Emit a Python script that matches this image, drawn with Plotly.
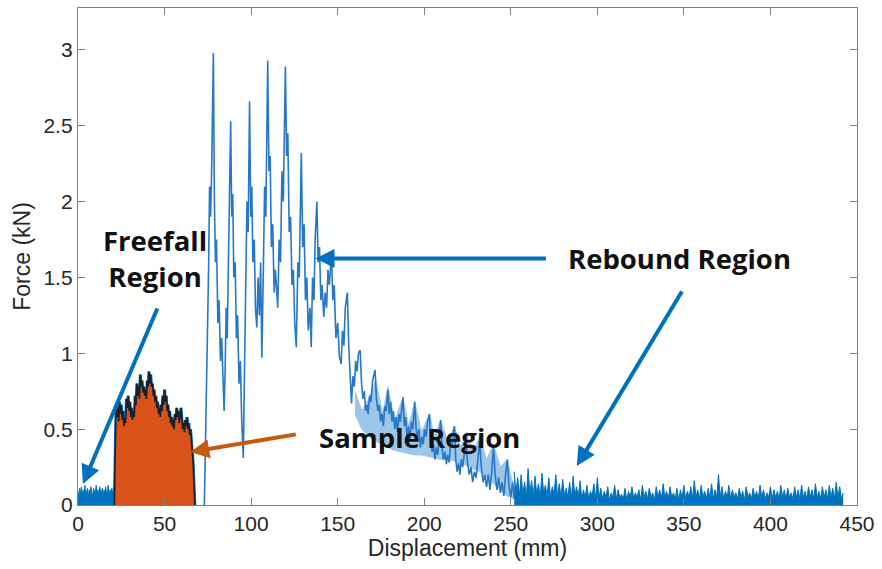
import numpy as np
import plotly.graph_objects as go

# ---------------- data ----------------
# Freefall region: 0 - 21 mm, 0.5 mm sampling
freefall_start, freefall_step = 0.0, 0.5
freefall_y = [0.09, 0.05, 0.11, 0.07, 0.12, 0.06, 0.10, 0.08, 0.13, 0.06,
              0.09, 0.11, 0.05, 0.10, 0.07, 0.12, 0.08, 0.06, 0.11, 0.09,
              0.07, 0.13, 0.08, 0.10, 0.06, 0.12, 0.09, 0.07, 0.11, 0.05,
              0.10, 0.08, 0.12, 0.07, 0.09, 0.13, 0.06, 0.10, 0.08, 0.11,
              0.07, 0.12, 0.09]

# Sample region: 21 - 67.5 mm, 0.5 mm sampling
sample_start, sample_step = 21.0, 0.5
sample_y = [0.00, 0.52, 0.66, 0.58, 0.64, 0.55, 0.68, 0.60, 0.66, 0.56,
            0.62, 0.52, 0.58, 0.54, 0.70, 0.64, 0.72, 0.62, 0.68, 0.58,
            0.64, 0.56, 0.62, 0.58, 0.72, 0.66, 0.80, 0.72, 0.78, 0.70,
            0.86, 0.78, 0.82, 0.74, 0.78, 0.72, 0.76, 0.70, 0.82, 0.78,
            0.88, 0.80, 0.86, 0.78, 0.80, 0.72, 0.76, 0.68, 0.72, 0.64,
            0.68, 0.60, 0.64, 0.58, 0.66, 0.62, 0.72, 0.66, 0.76, 0.68,
            0.72, 0.62, 0.66, 0.58, 0.62, 0.54, 0.58, 0.52, 0.56, 0.50,
            0.60, 0.56, 0.64, 0.58, 0.62, 0.54, 0.60, 0.64, 0.56, 0.50,
            0.54, 0.48, 0.56, 0.52, 0.58, 0.50, 0.54, 0.46, 0.50, 0.44,
            0.38, 0.28, 0.14, 0.00]

# Rebound region (main oscillating trace)
rebound_x = [73.0, 74.5, 75.5, 76.0, 76.6, 77.2, 78.2, 78.8, 79.4, 80.0,
             80.8, 81.5, 82.3, 83.0, 83.8, 84.4, 85.0, 85.6, 86.2, 87.0,
             87.6, 88.2, 88.8, 89.4, 90.0, 90.8, 91.5, 92.2, 93.0, 93.8,
             94.6, 95.5, 96.2, 97.0, 97.6, 98.3, 99.1, 99.8, 100.4, 101.0,
             101.8, 102.5, 103.3, 104.0, 104.8, 105.5, 106.2, 107.0, 107.8, 108.5,
             109.6, 110.3, 111.0, 111.7, 112.5, 113.3, 114.0, 115.4, 116.2, 117.0,
             117.8, 118.6, 119.8, 120.5, 121.2, 122.0, 122.8, 123.6, 124.4, 125.2,
             126.1, 127.0, 127.8, 129.0, 129.8, 130.6, 131.4, 132.2, 133.0, 134.0,
             134.7, 135.5, 136.3, 137.0, 138.0, 138.7, 139.5, 140.3, 141.0, 142.0,
             142.8, 143.6, 144.4, 145.2, 146.4, 147.2, 148.0, 149.0, 150.0, 151.0,
             152.0, 152.8, 153.6, 154.4, 155.6, 156.4, 157.2, 158.0, 158.8, 159.6,
             160.4, 161.2, 162.0, 163.0, 163.8, 164.6, 165.4, 166.2, 167.0, 167.6,
             168.4, 169.2, 170.2, 171.6, 172.4, 173.2, 174.0, 174.8, 175.6, 176.4,
             177.2, 178.0, 179.0, 179.8, 180.6, 181.4, 182.2, 183.0, 183.8, 184.6,
             185.4, 186.2, 187.7, 188.5, 189.3, 190.1, 191.0, 191.8, 192.6, 193.4,
             194.5, 195.3, 196.1, 197.0, 197.8, 198.6, 199.4, 200.2, 201.0, 202.0,
             203.0, 203.8, 204.6, 205.4, 206.2, 207.0, 207.8, 208.6, 209.5, 210.3,
             211.1, 212.0, 212.8, 213.6, 214.4, 215.2, 216.0, 217.4, 218.2, 219.0,
             219.8, 220.6, 221.4, 222.2, 223.0, 224.0, 225.0, 226.0, 227.0, 228.0,
             229.0, 230.0, 231.0, 232.0, 233.0, 234.0, 235.0, 236.0, 237.0, 238.0,
             239.0, 240.0, 241.0, 242.0, 243.0, 244.0, 245.0, 246.0, 247.0, 248.0,
             249.0, 250.0, 251.0, 252.0]
rebound_y = [0.0, 0.9, 1.6, 2.1, 1.9, 2.2, 2.98, 2.0, 1.6, 1.75,
             1.2, 1.35, 0.95, 1.1, 0.75, 0.62, 0.9, 1.3, 1.1, 1.8,
             2.1, 2.53, 1.9, 2.05, 1.5, 1.6, 1.1, 1.25, 0.8, 0.95,
             0.55, 0.31, 0.9, 1.5, 2.0, 1.8, 2.66, 1.9, 2.1, 1.6,
             1.75, 1.3, 1.17, 1.5, 1.25, 1.6, 0.97, 1.5, 2.1, 1.9,
             2.93, 2.2, 2.3, 1.7, 1.85, 1.4, 1.55, 1.3, 1.75, 1.6,
             2.2, 2.0, 2.89, 2.3, 2.45, 1.8, 1.9, 1.45, 1.55, 1.2,
             1.04, 1.6, 1.5, 2.32, 1.7, 1.85, 1.35, 1.5, 1.15, 1.3,
             1.04, 1.5, 1.35, 1.75, 2.0, 1.6, 1.7, 1.35, 1.45, 1.24,
             1.4, 1.3, 1.55, 1.45, 1.66, 1.35, 1.45, 1.1, 1.2, 0.98,
             0.93, 1.15, 1.05, 1.3, 1.4, 1.05, 0.9, 0.67, 0.85, 0.78,
             0.95, 0.88, 1.0, 1.02, 0.8, 0.7, 0.75, 0.62, 0.66, 0.6,
             0.72, 0.68, 0.82, 0.89, 0.7, 0.62, 0.66, 0.55, 0.6, 0.52,
             0.65, 0.62, 0.76, 0.6, 0.68, 0.55, 0.62, 0.5, 0.58, 0.48,
             0.6, 0.55, 0.71, 0.52, 0.58, 0.45, 0.52, 0.42, 0.55, 0.5,
             0.68, 0.5, 0.45, 0.5, 0.38, 0.45, 0.4, 0.5, 0.45, 0.55,
             0.6, 0.42, 0.35, 0.4, 0.3, 0.38, 0.33, 0.45, 0.56, 0.38,
             0.3, 0.35, 0.27, 0.33, 0.28, 0.4, 0.38, 0.52, 0.3, 0.22,
             0.28, 0.2, 0.3, 0.25, 0.32, 0.45, 0.28, 0.2, 0.25, 0.15,
             0.22, 0.18, 0.28, 0.42, 0.25, 0.15, 0.2, 0.12, 0.2, 0.1,
             0.22, 0.38, 0.2, 0.1, 0.18, 0.08, 0.15, 0.06, 0.2, 0.3,
             0.12, 0.05, 0.15, 0.04]

# Light-blue oscillation band under the decaying part of the rebound
band_x = [160, 164, 168, 172, 176, 179, 183, 187.7, 191, 194.5, 198.5, 203, 206,
          209.5, 213.5, 217.4, 221, 224.5, 228, 232, 236, 240, 244, 248, 252]
band_upper = [0.75, 0.62, 0.7, 0.82, 0.6, 0.78, 0.55, 0.71, 0.52, 0.68, 0.48, 0.6, 0.45,
              0.56, 0.42, 0.52, 0.38, 0.48, 0.34, 0.45, 0.3, 0.4, 0.25, 0.3, 0.1]
band_lower = [0.6, 0.5, 0.45, 0.42, 0.4, 0.38, 0.36, 0.35, 0.34, 0.33, 0.33, 0.32, 0.31,
              0.3, 0.3, 0.29, 0.28, 0.26, 0.24, 0.22, 0.18, 0.14, 0.1, 0.06, 0.04]

# Tail (after rebound): 252 - 442 mm, 1 mm sampling
tail_start, tail_step = 252.0, 1.0
tail_y = [0.22, 0.08, 0.18, 0.06, 0.20, 0.07, 0.15, 0.05, 0.24, 0.08,
          0.16, 0.06, 0.19, 0.07, 0.14, 0.05, 0.21, 0.08, 0.13, 0.06,
          0.18, 0.05, 0.12, 0.07, 0.20, 0.06, 0.14, 0.05, 0.17, 0.06,
          0.11, 0.05, 0.15, 0.04, 0.19, 0.06, 0.12, 0.05, 0.16, 0.04,
          0.10, 0.05, 0.13, 0.04, 0.09, 0.06, 0.14, 0.04, 0.18, 0.05,
          0.11, 0.04, 0.09, 0.05, 0.12, 0.03, 0.08, 0.05, 0.13, 0.04,
          0.10, 0.05, 0.07, 0.04, 0.11, 0.03, 0.09, 0.05, 0.12, 0.04,
          0.08, 0.05, 0.10, 0.03, 0.13, 0.05, 0.09, 0.04, 0.11, 0.05,
          0.08, 0.03, 0.12, 0.05, 0.10, 0.04, 0.14, 0.05, 0.09, 0.04,
          0.12, 0.05, 0.08, 0.04, 0.11, 0.03, 0.10, 0.05, 0.13, 0.04,
          0.09, 0.05, 0.12, 0.04, 0.16, 0.05, 0.10, 0.04, 0.13, 0.05,
          0.09, 0.04, 0.11, 0.05, 0.14, 0.04, 0.10, 0.05, 0.20, 0.05,
          0.12, 0.04, 0.09, 0.05, 0.13, 0.04, 0.10, 0.05, 0.08, 0.04,
          0.11, 0.05, 0.09, 0.03, 0.12, 0.05, 0.08, 0.04, 0.11, 0.05,
          0.09, 0.04, 0.13, 0.05, 0.10, 0.04, 0.08, 0.05, 0.12, 0.04,
          0.10, 0.05, 0.09, 0.04, 0.13, 0.05, 0.10, 0.04, 0.11, 0.05,
          0.08, 0.04, 0.12, 0.05, 0.10, 0.04, 0.13, 0.05, 0.09, 0.04,
          0.12, 0.05, 0.10, 0.04, 0.14, 0.05, 0.09, 0.04, 0.12, 0.05,
          0.10, 0.04, 0.13, 0.05, 0.11, 0.04, 0.15, 0.05, 0.12, 0.04,
          0.08]

x_ticks = [0, 50, 100, 150, 200, 250, 300, 350, 400, 450]
y_ticks = [0, 0.5, 1, 1.5, 2, 2.5, 3]
y_ticktext = ["0", "0.5", "1", "1.5", "2", "2.5", "3"]

# ---------------- figure ----------------
BLUE = "#0072BD"
ORANGE = "#D95319"
ARROW_BLUE = "#0070C0"
ARROW_ORANGE = "#C55A11"

freefall_x = freefall_start + freefall_step * np.arange(len(freefall_y))
sample_x = sample_start + sample_step * np.arange(len(sample_y))
tail_x = tail_start + tail_step * np.arange(len(tail_y))

fig = go.Figure()

fig.add_trace(go.Scatter(x=freefall_x, y=freefall_y, mode="lines",
                         line=dict(color=BLUE, width=1), fill="tozeroy",
                         fillcolor=BLUE, showlegend=False))

fig.add_trace(go.Scatter(x=list(band_x) + list(band_x)[::-1],
                         y=list(band_upper) + list(band_lower)[::-1],
                         mode="lines", line=dict(color="#9cc6ea", width=1),
                         fill="toself", fillcolor="#9cc6ea", showlegend=False))

fig.add_trace(go.Scatter(x=rebound_x, y=rebound_y, mode="lines",
                         line=dict(color="#2777c6", width=1.6), showlegend=False))

fig.add_trace(go.Scatter(x=tail_x, y=tail_y, mode="lines",
                         line=dict(color=BLUE, width=1), fill="tozeroy",
                         fillcolor=BLUE, showlegend=False))

# Sample region: blue halo, then orange area with dark noisy edge
fig.add_trace(go.Scatter(x=sample_x, y=sample_y, mode="lines",
                         line=dict(color=BLUE, width=3), showlegend=False))
fig.add_trace(go.Scatter(x=sample_x, y=sample_y, mode="lines",
                         line=dict(color="#1a1f2b", width=1.6), fill="tozeroy",
                         fillcolor=ORANGE, showlegend=False))

# ---------------- annotations ----------------
L, R, T, B = 78, 20, 7, 64
W, H = 882, 569
pw, ph = W - L - R, H - T - B
xmax, ymax = 450.0, 3.276


def px2x(px):
    return (px - L) / pw * xmax


def py2y(py):
    return (T + ph - py) / ph * ymax


text_font = dict(family="Open Sans", size=27.5, color="#111111")

anns = []
for txt, cx, cy in [("<b>Freefall</b><br><b>Region</b>", 155, 258),
                    ("<b>Rebound Region</b>", 683, 258),
                    ("<b>Sample Region</b>", 422, 437)]:
    anns.append(dict(text=txt, x=px2x(cx), y=py2y(cy), xref="x", yref="y",
                     showarrow=False, xanchor="center", yanchor="middle",
                     font=text_font, align="center"))

# arrows: (head px, head py, tail px, tail py, color)
for hx, hy, tx, ty, col in [(83, 484, 158, 307, ARROW_BLUE),
                            (317, 258, 549, 258, ARROW_BLUE),
                            (580, 466, 686, 290, ARROW_BLUE),
                            (191, 452, 298, 434, ARROW_ORANGE)]:
    anns.append(dict(text="", x=px2x(hx), y=py2y(hy), xref="x", yref="y",
                     ax=tx - hx, ay=ty - hy, axref="pixel", ayref="pixel",
                     showarrow=True, arrowhead=2, arrowsize=0.95,
                     arrowwidth=4, arrowcolor=col, standoff=0))

axis_common = dict(showline=True, linecolor="#808080", linewidth=1.3,
                   mirror="ticks", ticks="inside", ticklen=7,
                   tickcolor="#808080", tickwidth=1.3, showgrid=False,
                   zeroline=False,
                   tickfont=dict(family="Liberation Sans", size=21, color="#262626"))

fig.update_layout(
    width=W, height=H,
    margin=dict(l=L, r=R, t=T, b=B),
    paper_bgcolor="white", plot_bgcolor="white",
    annotations=anns,
    xaxis=dict(range=[0, xmax], tickvals=x_ticks,
               title=dict(text="Displacement (mm)", standoff=5,
                          font=dict(family="Liberation Sans", size=23, color="#262626")),
               **axis_common),
    yaxis=dict(range=[0, ymax], tickvals=y_ticks, ticktext=y_ticktext,
               title=dict(text="Force (kN)", standoff=6,
                          font=dict(family="Liberation Sans", size=23, color="#262626")),
               **axis_common),
)

fig.write_html("out.html")
